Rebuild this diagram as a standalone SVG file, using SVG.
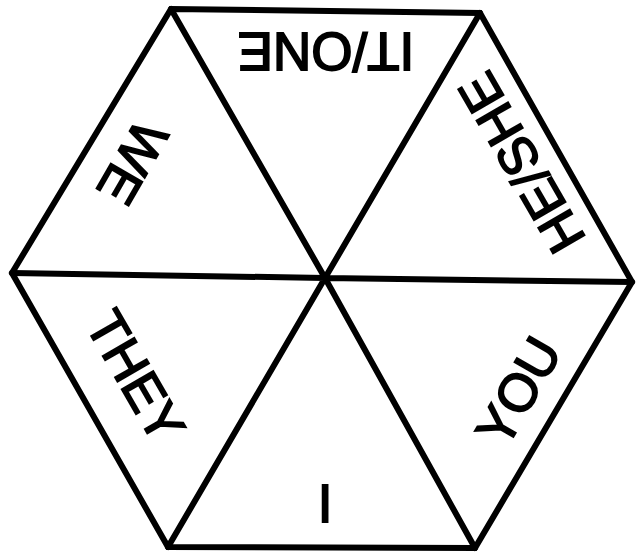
<svg xmlns="http://www.w3.org/2000/svg" width="638" height="556" viewBox="0 0 638 556">
<style>
.edge{fill:none;stroke:#000;stroke-width:6;stroke-linejoin:miter;stroke-linecap:round}
.lbl{font-family:"Liberation Sans",Arial,sans-serif;font-size:53px;fill:#000;stroke:#000;stroke-width:1.8;text-anchor:middle}
</style>
<rect width="638" height="556" fill="#fff"/>
<g id="connectors">
<polygon class="edge" points="171,9 480,13 632,282 475,548 168,547 12,273"/>
<path class="edge" d="M325,278 L171,9 M325,278 L480,13 M325,278 L632,282 M325,278 L475,548 M325,278 L168,547 M325,278 L12,273"/>
</g>
<g id="it-one"><text class="lbl" transform="translate(326,52) rotate(180)" y="19">IT/ONE</text></g>
<g id="he-she"><text class="lbl" transform="translate(521,163) rotate(-120)" y="19">HE/SHE</text></g>
<g id="you"><text class="lbl" transform="translate(518,391) rotate(-60)" y="19">YOU</text></g>
<g id="i"><text class="lbl" transform="translate(325,503)" y="19">I</text></g>
<g id="they"><text class="lbl" transform="translate(136,376) rotate(60)" y="19">THEY</text></g>
<g id="we"><text class="lbl" transform="translate(133,163) rotate(120)" y="19">WE</text></g>
</svg>
